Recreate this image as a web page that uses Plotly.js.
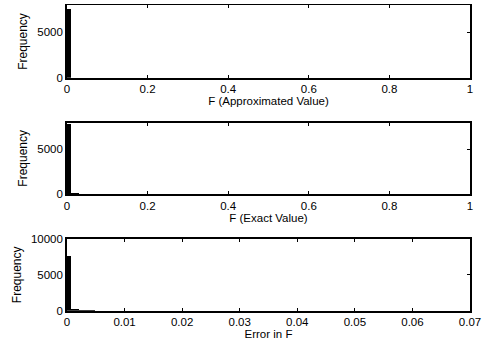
<!DOCTYPE html>
<html>
<head>
<meta charset="utf-8">
<script src="https://cdn.plot.ly/plotly-3.0.1.min.js"></script>
<style>html,body{margin:0;padding:0;background:#fff;}#chart{width:485px;height:346px;}</style>
</head>
<body>
<div id="chart"></div>
<script>
// ---- data ----
const approxBinWidth = 0.01;   // 100 bins over [0,1]
const approxCounts = [7600, 12, 8, 6, 9, 5, 4, 4, 3, 3,
  3, 3, 2, 2, 2, 2, 2, 2, 2, 2, 2, 2, 2, 2, 2, 2, 2, 2, 2, 2,
  1, 1, 1, 1, 1, 1, 1, 1, 1, 1, 1, 1, 1, 1, 1, 1, 1, 1, 1, 1,
  1, 1, 1, 1, 1, 1, 1, 1, 1, 1, 1, 1, 1, 1, 1, 1, 1, 1, 1, 1,
  1, 1, 1, 1, 1, 1, 1, 1, 1, 1, 1, 1, 1, 1, 1, 1, 1, 1, 1, 1,
  1, 1, 1, 1, 1, 1, 1, 1, 1, 1];
const exactBinWidth = 0.01;
const exactCounts = [7800, 90, 70, 55, 45, 40, 36, 33, 30, 28,
  26, 24, 22, 21, 20, 19, 18, 17, 16, 16, 15, 15, 14, 14, 13, 13, 12, 12, 12, 11,
  11, 11, 10, 10, 10, 10, 9, 9, 9, 9, 9, 8, 8, 8, 8, 8, 8, 7, 7, 7,
  7, 7, 7, 7, 6, 6, 6, 6, 6, 6, 6, 6, 6, 5, 5, 5, 5, 5, 5, 5,
  5, 5, 5, 5, 4, 4, 4, 4, 4, 4, 4, 4, 4, 4, 4, 4, 4, 4, 3, 3,
  3, 3, 3, 3, 3, 3, 3, 3, 3, 3];
const errorBinWidth = 0.0007;  // 100 bins over [0,0.07]
const errorCounts = [7670, 200, 170, 140, 110, 80, 40, 25, 18, 14,
  12, 10, 9, 8, 7, 6, 6, 5, 5, 4, 4, 4, 3, 3, 3, 3, 3, 2, 2, 2,
  2, 2, 2, 2, 2, 2, 2, 2, 1, 1, 1, 1, 1, 1, 1, 1, 1, 1, 1, 1,
  1, 1, 1, 1, 1, 1, 1, 1, 1, 1, 1, 1, 1, 1, 1, 1, 1, 1, 1, 1,
  1, 1, 1, 1, 1, 1, 1, 1, 1, 1, 1, 1, 1, 1, 1, 1, 1, 1, 1, 1,
  1, 1, 1, 1, 1, 1, 1, 1, 1, 1];
const xTitles = ['F (Approximated Value)', 'F (Exact Value)', 'Error in F'];
const yTitle = 'Frequency';

function centers(counts, w) { return counts.map((_, i) => (i + 0.5) * w); }

const FONT = {family: 'Liberation Sans, Arial, sans-serif', size: 11.5, color: '#000'};
const YFONT = {family: 'Liberation Sans, Arial, sans-serif', size: 12, color: '#000'};
function mkTrace(counts, w, xa, ya) {
  return {type: 'bar', x: centers(counts, w), y: counts, width: w, xaxis: xa, yaxis: ya,
    marker: {color: '#000', line: {width: 0}}, hoverinfo: 'skip', showlegend: false};
}
const data = [
  mkTrace(approxCounts, approxBinWidth, 'x', 'y'),
  mkTrace(exactCounts, exactBinWidth, 'x2', 'y2'),
  mkTrace(errorCounts, errorBinWidth, 'x3', 'y3')
];
const xDom = [67/485, 470/485];
function xax(anchor, range, dtick, title) {
  return {domain: xDom, anchor: anchor, range: range, dtick: dtick, tick0: 0,
    showline: true, mirror: 'ticks', linecolor: '#000', linewidth: 1.8,
    ticks: 'inside', ticklen: 3, tickcolor: '#000', tickwidth: 1,
    showgrid: false, zeroline: false, tickfont: FONT,
    title: {text: title, font: FONT, standoff: 0}};
}
function yax(anchor, dom, range, dtick) {
  return {domain: dom, anchor: anchor, range: range, dtick: dtick, tick0: 0,
    showline: true, mirror: 'ticks', linecolor: '#000', linewidth: 1.8,
    ticks: 'inside', ticklen: 3, tickcolor: '#000', tickwidth: 1,
    showgrid: false, zeroline: false, tickfont: FONT, tickformat: 'd',
    title: {text: yTitle, font: YFONT, standoff: 7}};
}
const layout = {
  width: 485, height: 346, margin: {l: 0, r: 0, t: 0, b: 0},
  paper_bgcolor: '#fff', plot_bgcolor: '#fff', font: FONT, bargap: 0,
  xaxis: xax('y', [0, 1], 0.2, xTitles[0]),
  yaxis: yax('x', [1 - 77.7/346, 1 - 5.3/346], [0, 8000], 5000),
  xaxis2: xax('y2', [0, 1], 0.2, xTitles[1]),
  yaxis2: yax('x2', [1 - 194/346, 1 - 122.7/346], [0, 8000], 5000),
  xaxis3: xax('y3', [0, 0.07], 0.01, xTitles[2]),
  yaxis3: yax('x3', [1 - 310.7/346, 1 - 239/346], [0, 10000], 5000)
};
Plotly.newPlot('chart', data, layout, {staticPlot: true, displayModeBar: false});
</script>
</body>
</html>
